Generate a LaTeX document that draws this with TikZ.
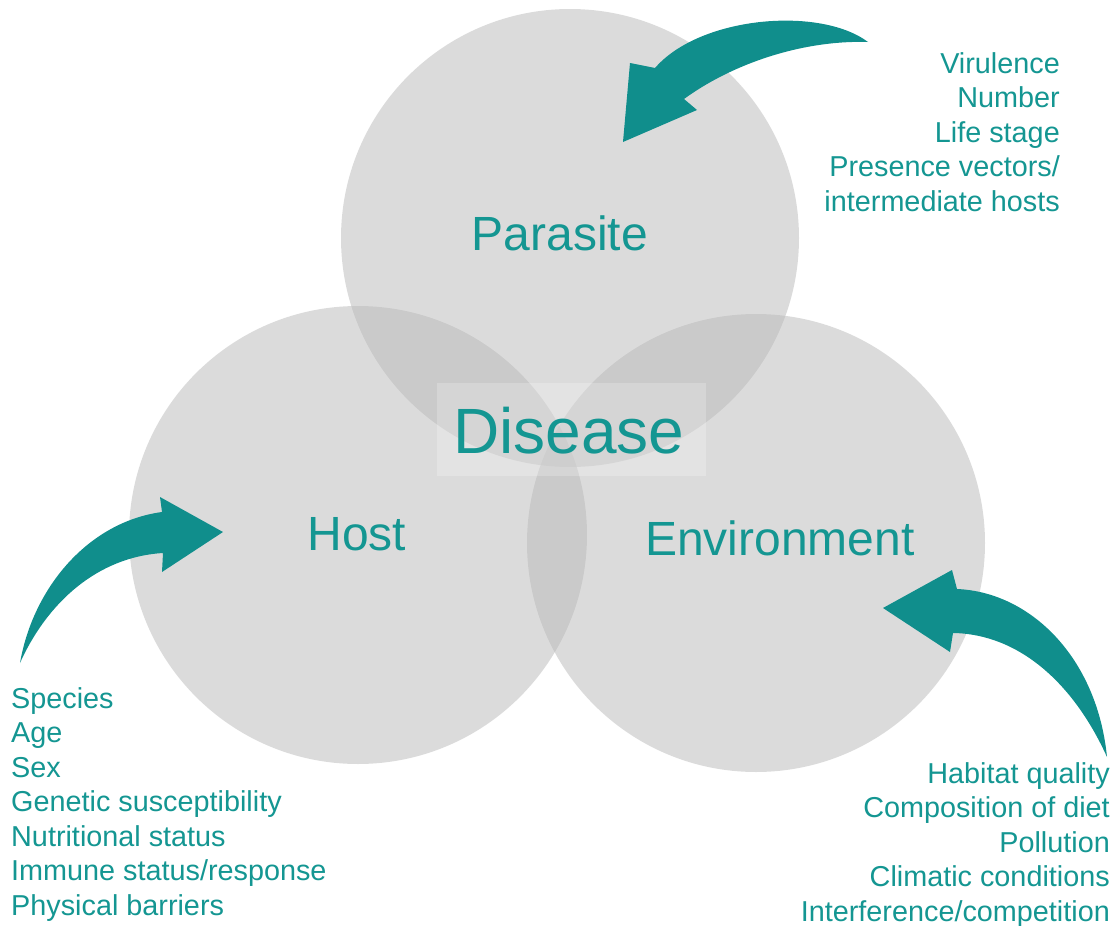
\documentclass[tikz,border=0pt]{standalone}
\usepackage{fontspec}
\setmainfont{Liberation Sans}
\definecolor{tealtxt}{RGB}{20,150,146}
\definecolor{tealarrow}{RGB}{16,142,140}
\definecolor{blobgray}{RGB}{184,184,184}
\tikzset{
  blob/.style={circle, fill=blobgray, fill opacity=0.5, draw=none, inner sep=0pt, minimum size=458pt},
  title/.style={text=tealtxt, font=\fontsize{48}{56}\selectfont, inner sep=0pt, anchor=base},
  bigtitle/.style={text=tealtxt, font=\fontsize{64}{72}\selectfont, inner sep=0pt, anchor=base},
  listtxt/.style={text=tealtxt, font=\fontsize{28.8}{34}\selectfont, inner sep=0pt},
  bendarrow/.style={fill=tealarrow, draw=none}
}
\begin{document}
\begin{tikzpicture}[x=1pt,y=-1pt]
\useasboundingbox (0,0) rectangle (1120,926);
% circles
\node[blob] (parasite) at (570,238) {};
\node[blob] (host) at (358,535) {};
\node[blob] (environment) at (756,543) {};
% disease highlight box
\fill[white, fill opacity=0.22] (437,383) rectangle (706,476);
% titles
\node[title] (tpar) at (560,250) {Parasite};
\node[title] (thost) at (357,550) {Host};
\node[title] (tenv) at (780,555) {Environment};
\node[bigtitle] (tdis) at (569,453) {Disease};
% arrows
\fill[bendarrow] (868,42) .. controls (820,6) and (700,16) .. (655,68)
  -- (630,63) -- (623,142) -- (697,110) -- (684,99)
  .. controls (735,62) and (805,40) .. (868,42) -- cycle;
\fill[bendarrow] (20,663) .. controls (33,588) and (88,522) .. (162,512)
  -- (160,497) -- (223,532) -- (162,572) -- (163,553)
  .. controls (97,557) and (47,603) .. (20,663) -- cycle;
\fill[bendarrow] (1107,757) .. controls (1097,657) and (1030,592) .. (957,589)
  -- (952,570) -- (883,608) -- (950,652) -- (953,633)
  .. controls (1018,634) and (1073,682) .. (1107,757) -- cycle;
% parasite factors
\foreach \t [count=\i] in {Virulence, Number, Life stage, Presence vectors/, intermediate hosts}
  \node[listtxt, anchor=base east] (pf\i) at (1060,{73+34.5*(\i-1)}) {\t};
% host factors
\foreach \t [count=\i] in {Species, Age, Sex, Genetic susceptibility, Nutritional status, Immune status/response, Physical barriers}
  \node[listtxt, anchor=base west] (hf\i) at (11,{708+34.5*(\i-1)}) {\t};
% environment factors
\foreach \t [count=\i] in {Habitat quality, Composition of diet, Pollution, Climatic conditions, Interference/competition}
  \node[listtxt, anchor=base east] (ef\i) at (1110,{783+34.5*(\i-1)}) {\t};
\end{tikzpicture}
\end{document}
